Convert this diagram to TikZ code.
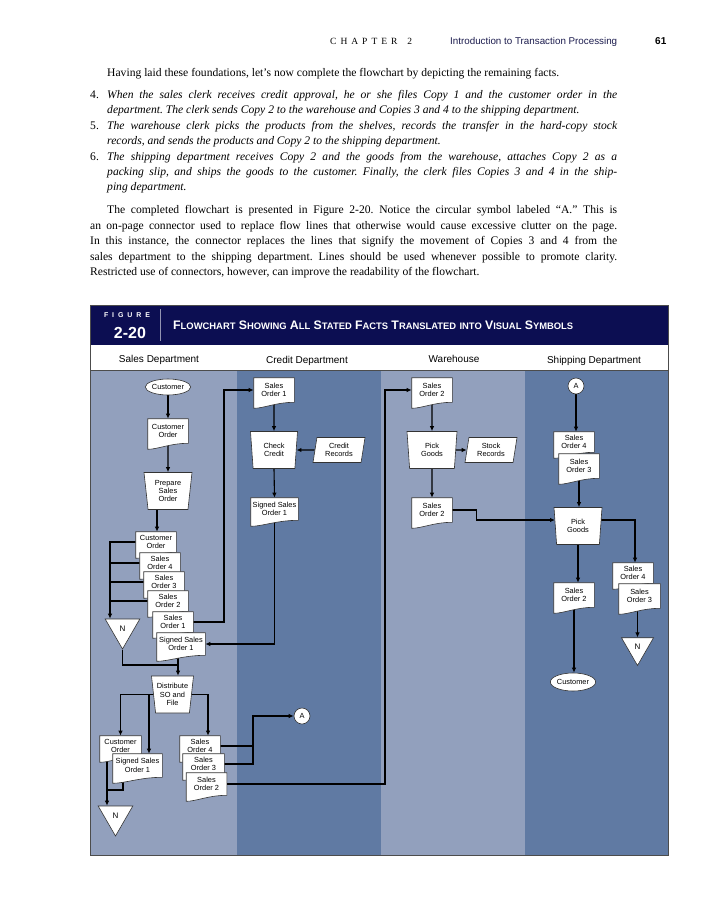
\documentclass[tikz,border=0pt]{standalone}
\usepackage{fontspec}
\usepackage{graphicx}
\setmainfont{Liberation Serif}
\setsansfont{Liberation Sans}
\usetikzlibrary{arrows.meta,shapes.geometric,calc}
\frenchspacing

\definecolor{navyhead}{RGB}{12,14,82}
\definecolor{lanelight}{RGB}{146,160,189}
\definecolor{lanedark}{RGB}{96,122,163}
\definecolor{runhead}{RGB}{28,28,78}

% document symbol: rectangle with a wavy bottom edge
\makeatletter
\newdimen\docwave \docwave=6pt
\newdimen\dxa \newdimen\dya \newdimen\dxb \newdimen\dyb
\newdimen\dca \newdimen\dcb \newdimen\dlow
\pgfdeclareshape{document}{
  \inheritsavedanchors[from=rectangle]
  \inheritanchorborder[from=rectangle]
  \inheritanchor[from=rectangle]{center}
  \inheritanchor[from=rectangle]{text}
  \inheritanchor[from=rectangle]{base}
  \inheritanchor[from=rectangle]{north}
  \inheritanchor[from=rectangle]{south}
  \inheritanchor[from=rectangle]{east}
  \inheritanchor[from=rectangle]{west}
  \inheritanchor[from=rectangle]{north east}
  \inheritanchor[from=rectangle]{north west}
  \inheritanchor[from=rectangle]{south east}
  \inheritanchor[from=rectangle]{south west}
  \backgroundpath{
    \southwest \dxa=\pgf@x \dya=\pgf@y
    \northeast \dxb=\pgf@x \dyb=\pgf@y
    \dca=\dxb \advance\dca by-\dxa
    \dcb=.25\dca \advance\dcb by\dxa
    \dca=.55\dca \advance\dca by\dxa
    \dlow=\dya \advance\dlow by-\docwave
    \pgfpathmoveto{\pgfqpoint{\dxa}{\dyb}}
    \pgfpathlineto{\pgfqpoint{\dxb}{\dyb}}
    \pgfpathlineto{\pgfqpoint{\dxb}{\dya}}
    \pgfpathcurveto{\pgfqpoint{\dca}{\dya}}{\pgfqpoint{\dcb}{\dlow}}{\pgfqpoint{\dxa}{\dlow}}
    \pgfpathclose
  }
}
\makeatother

\pgfdeclarelayer{lanes}
\pgfdeclarelayer{wires}
\pgfsetlayers{lanes,wires,main}

\newcommand\jl[2]{\makebox[#1][s]{#2}}
\newcommand\capw[2]{{\fontsize{10.5}{10.5}\selectfont #1}{\fontsize{8}{8}\selectfont #2}}

\tikzset{
  box/.style={draw=black!80, line width=.6pt, fill=white, inner sep=1pt, align=center,
    font=\sffamily\fontsize{7.4}{8.4}\selectfont},
  doc/.style={box, shape=document, minimum width=40pt, minimum height=24pt},
  manual/.style={box, trapezium, shape border rotate=180, trapezium angle=80,
    trapezium stretches body, minimum width=48pt, minimum height=37pt, inner sep=.5pt},
  store/.style={box, trapezium, trapezium left angle=76, trapezium right angle=104,
    trapezium stretches body, minimum width=52pt, minimum height=25pt},
  term/.style={box, ellipse, minimum width=44pt, minimum height=16pt, inner sep=0pt},
  offpage/.style={box, circle, minimum size=16pt, inner sep=0pt},
  offline/.style={box, regular polygon, regular polygon sides=3, shape border rotate=180,
    minimum size=40pt, inner sep=0pt, font=\sffamily\fontsize{8}{8}\selectfont},
  flow/.style={line width=1.1pt, -{Latex[length=5pt,width=4.5pt]}},
  link/.style={line width=1.1pt},
  txt/.style={inner sep=0pt, anchor=base west, font=\fontsize{11.6}{14}\selectfont},
  dept/.style={inner sep=0pt, font=\sffamily\fontsize{10}{10}\selectfont},
}

\begin{document}
\begin{tikzpicture}[x=1pt,y=-1pt]
  \useasboundingbox (0,0) rectangle (719,900);

  % running head
  \node[txt, font=\fontsize{9.5}{10}\selectfont] (chap) at (330,44) {\jl{82pt}{C H A P T E R\hspace{6pt} 2}};
  \node[txt, text=runhead] (runtitle) at (450,44) {\resizebox{167pt}{!}{\sffamily Introduction to Transaction Processing}};
  \node[txt, font=\sffamily\bfseries\fontsize{10}{10}\selectfont] (pageno) at (655,44) {61};

  % body text
  \node[txt] (p1) at (107,76) {Having laid these foundations, let’s now complete the flowchart by depicting the remaining facts.};
  \node[txt] (n4) at (90,98) {4.};
  \node[txt, font=\fontsize{11.6}{14}\selectfont\itshape] (i4a) at (107,98) {\jl{510pt}{When the sales clerk receives credit approval, he or she files Copy 1 and the customer order in the}};
  \node[txt, font=\fontsize{11.6}{14}\selectfont\itshape] (i4b) at (107,113) {department. The clerk sends Copy 2 to the warehouse and Copies 3 and 4 to the shipping department.};
  \node[txt] (n5) at (90,129) {5.};
  \node[txt, font=\fontsize{11.6}{14}\selectfont\itshape] (i5a) at (107,129) {\jl{510pt}{The warehouse clerk picks the products from the shelves, records the transfer in the hard-copy stock}};
  \node[txt, font=\fontsize{11.6}{14}\selectfont\itshape] (i5b) at (107,144) {records, and sends the products and Copy 2 to the shipping department.};
  \node[txt] (n6) at (90,160) {6.};
  \node[txt, font=\fontsize{11.6}{14}\selectfont\itshape] (i6a) at (107,160) {\jl{510pt}{The shipping department receives Copy 2 and the goods from the warehouse, attaches Copy 2 as a}};
  \node[txt, font=\fontsize{11.6}{14}\selectfont\itshape] (i6b) at (107,175) {\jl{510pt}{packing slip, and ships the goods to the customer. Finally, the clerk files Copies 3 and 4 in the ship-}};
  \node[txt, font=\fontsize{11.6}{14}\selectfont\itshape] (i6c) at (107,190) {ping department.};
  \node[txt] (p2a) at (107,213) {\jl{510pt}{The completed flowchart is presented in Figure 2-20. Notice the circular symbol labeled “A.” This is}};
  \node[txt] (p2b) at (90,229) {\jl{527pt}{an on-page connector used to replace flow lines that otherwise would cause excessive clutter on the page.}};
  \node[txt] (p2c) at (90,244) {\jl{527pt}{In this instance, the connector replaces the lines that signify the movement of Copies 3 and 4 from the}};
  \node[txt] (p2d) at (90,260) {\jl{527pt}{sales department to the shipping department. Lines should be used whenever possible to promote clarity.}};
  \node[txt] (p2e) at (90,275) {Restricted use of connectors, however, can improve the readability of the flowchart.};

  % figure frame, title band and swim lanes
  \begin{pgfonlayer}{lanes}
    \fill[navyhead] (90,305) rectangle (668,345);
    \fill[white] (90,345) rectangle (668,370);
    \fill[lanelight] (90,370) rectangle (237,855);
    \fill[lanedark] (237,370) rectangle (381,855);
    \fill[lanelight] (381,370) rectangle (525,855);
    \fill[lanedark] (525,370) rectangle (668,855);
  \end{pgfonlayer}
  \draw[black!70, line width=.8pt] (90,305) rectangle (668,855);
  \draw[black!70, line width=1pt] (90,370) -- (668,370);
  \draw[white!55!navyhead, line width=.6pt] (160,309) -- (160,341);
  \node[inner sep=0pt, text=white, font=\sffamily\bfseries\fontsize{7}{7}\selectfont] (figword) at (127,315) {\jl{46pt}{F I G U R E}};
  \node[inner sep=0pt, text=white, font=\sffamily\bfseries\fontsize{16}{16}\selectfont] (fignum) at (130,333) {2-20};
  \node[inner sep=0pt, anchor=west, text=white] (figtitle) at (173,325) {\resizebox{400pt}{!}{\sffamily\bfseries
    \capw{F}{LOWCHART} \capw{S}{HOWING} \capw{A}{LL} \capw{S}{TATED} \capw{F}{ACTS} \capw{T}{RANSLATED} {\fontsize{8}{8}\selectfont INTO} \capw{V}{ISUAL} \capw{S}{YMBOLS}}};
  \node[dept] (dsales) at (159,360) {Sales Department};
  \node[dept] (dcredit) at (307,361) {Credit Department};
  \node[dept] (dware) at (454,359) {Warehouse};
  \node[dept] (dship) at (594,361) {Shipping Department};

  % sales department
  \node[term] (cust1) at (168,387) {Customer};
  \node[doc] (co1) at (168,431) {Customer\\Order};
  \node[manual] (prep) at (168,491) {Prepare\\Sales\\Order};
  \node[doc, minimum height=20pt] (co2) at (156,542) {Customer\\Order};
  \node[doc, minimum height=20pt] (so4a) at (160,563) {Sales\\Order 4};
  \node[doc, minimum height=20pt] (so3a) at (164,582) {Sales\\Order 3};
  \node[doc, minimum height=20pt] (so2a) at (168,601) {Sales\\Order 2};
  \node[doc, minimum height=20pt] (so1a) at (173,622) {Sales\\Order 1};
  \node[doc, minimum width=48pt, minimum height=22pt] (sso1a) at (181,644) {Signed Sales\\Order 1};
  \node[offline] (n1) at (122.5,629) {N};
  \node[manual, minimum width=42pt] (dist) at (172.5,694.5) {Distribute\\SO and\\File};
  \node[doc, minimum width=41pt, minimum height=20pt] (co3) at (120.5,746) {Customer\\Order};
  \node[doc, minimum width=49pt, minimum height=23pt] (sso1c) at (137.5,765.5) {Signed Sales\\Order 1};
  \node[offline] (n2) at (115.5,816) {N};
  \node[doc, minimum height=20pt] (so4d) at (200,746) {Sales\\Order 4};
  \node[doc, minimum width=41pt, minimum height=20pt] (so3d) at (203.5,764) {Sales\\Order 3};
  \node[doc, minimum height=22pt] (so2c) at (206.5,784) {Sales\\Order 2};
  \node[offpage] (a1) at (302,716) {A};

  % credit department
  \node[doc] (so1b) at (274,390) {Sales\\Order 1};
  \node[manual, minimum width=47pt] (chk) at (274,450) {Check\\Credit};
  \node[store] (crr) at (339,450) {Credit\\Records};
  \node[doc, minimum width=47pt, minimum height=22pt] (ssob) at (274.5,509) {Signed Sales\\Order 1};

  % warehouse
  \node[doc] (so2b) at (432,390) {Sales\\Order 2};
  \node[manual, minimum width=50pt] (pick) at (432,450) {Pick\\Goods};
  \node[store] (stk) at (491,450) {Stock\\Records};
  \node[doc] (so2d) at (432,510) {Sales\\Order 2};

  % shipping department
  \node[offpage] (a2) at (576,386) {A};
  \node[doc, minimum height=20pt] (so4b) at (574,442) {Sales\\Order 4};
  \node[doc] (so3b) at (579,466) {Sales\\Order 3};
  \node[manual] (pick2) at (578,526) {Pick\\Goods};
  \node[doc] (so2e) at (574,595) {Sales\\Order 2};
  \node[term, minimum width=40pt, minimum height=18pt] (cust2) at (573,682) {Customer};
  \node[doc, minimum height=20pt] (so4c) at (633,573) {Sales\\Order 4};
  \node[doc, minimum width=41pt] (so3c) at (639.5,596) {Sales\\Order 3};
  \node[offline, minimum size=37pt] (n3) at (637.5,647) {N};

  % flow lines
  \coordinate (nv) at (110,546);
  \coordinate (cj) at (224,390);
  \coordinate (wj) at (385,390);
  \coordinate (dj) at (178,665);
  \coordinate (db) at (149,694);
  \coordinate (nj) at (107,790);
  \coordinate (aj) at (253,716);
  \begin{pgfonlayer}{wires}
    \draw[flow] (cust1.south) -- (co1.north);
    \draw[flow] (co1.south) -- (prep.north);
    \draw[flow] ([xshift=-11pt]prep.south) -- ([xshift=-11pt]prep.south |- co2.north);
    \draw[flow] (co2.west) -| (nv |- n1.north);
    \draw[link] (so4a.west) -- (so4a.west -| nv);
    \draw[link] (so3a.west) -- (so3a.west -| nv);
    \draw[link] (so2a.west) -- (so2a.west -| nv);
    \draw[flow] (so1a.east) -| (cj) -- (so1b.west);
    \draw[flow] (so1b.south) -- (chk.north);
    \draw[flow] (crr.west) -- (chk.east);
    \draw[flow] (chk.south) -- (ssob.north);
    \draw[flow] (ssob.south) |- (sso1a.east);
    \draw[flow] ([xshift=-3pt]sso1a.south) -- (dj |- dist.north);
    \draw[link] (n1.south) |- (dj);
    \draw[flow] (dist.west) -| (co3.north);
    \draw[flow] (db) -- (db |- sso1c.north);
    \draw[flow] (dist.east) -| ([xshift=8pt]so4d.north);
    \draw[flow] (nj |- co3.south) -- (nj |- n2.north);
    \draw[link] ([xshift=-14.5pt]sso1c.south) |- (nj);
    \draw[link] (so4d.east) -| (aj);
    \draw[flow] (so3d.east) -| (aj) -- (a1.west);
    \draw[flow] (so2c.east) -| (wj) -- (so2b.west);
    \draw[flow] (so2b.south) -- (pick.north);
    \draw[flow] (pick.east) -- (stk.west);
    \draw[flow] (pick.south) -- (so2d.north);
    \draw[flow] (so2d.east) -- ++(24,0) |- ([yshift=6pt]pick2.west);
    \draw[flow] (a2.south) -- (a2.south |- so4b.north);
    \draw[flow] (so3b.south) -- (so3b.south |- pick2.north);
    \draw[flow] ([yshift=6pt]pick2.east) -| ([xshift=2pt]so4c.north);
    \draw[flow] ([xshift=-2pt]so3c.south) -- ([xshift=-2pt]so3c.south |- n3.north);
    \draw[flow] (pick2.south) -- (pick2.south |- so2e.north);
    \draw[flow] (so2e.south) -- (so2e.south |- cust2.north);
  \end{pgfonlayer}
\end{tikzpicture}
\end{document}
